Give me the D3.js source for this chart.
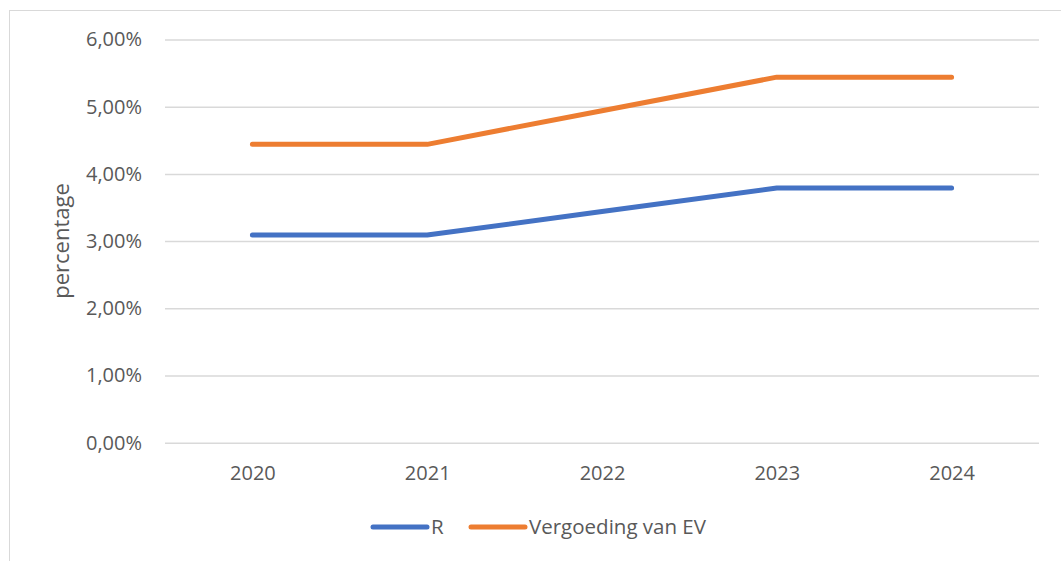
<!DOCTYPE html>
<html>
<head>
<meta charset="utf-8">
<script src="https://cdn.jsdelivr.net/npm/d3@7"></script>
<style>
body { margin: 0; background: #fff; }
text { font-family: "Open Sans", "Noto Sans", sans-serif; fill: #595959; }
</style>
</head>
<body>
<div id="wrapper"></div>
<script>
// data
const years = ["2020", "2021", "2022", "2023", "2024"]
const seriesR = [3.09, 3.09, 3.44, 3.79, 3.79]
const seriesEV = [4.44, 4.44, 4.94, 5.44, 5.44]
const yTicks = [0, 1, 2, 3, 4, 5, 6]

const dimensions = {
    width: 1061, height: 561,
    margins: {top: 39.5, bottom: 118.3, left: 165, right: 22}
}
dimensions.boundsWidth = dimensions.width - dimensions.margins.left - dimensions.margins.right
dimensions.boundsHeight = dimensions.height - dimensions.margins.top - dimensions.margins.bottom

const svg = d3.select("#wrapper").append("svg")
    .attr("width", dimensions.width)
    .attr("height", dimensions.height)

// chart border
svg.append("rect")
    .attr("x", 9.5).attr("y", 10.5)
    .attr("width", 1060).attr("height", 560)
    .attr("fill", "none").attr("stroke", "#d9d9d9").attr("stroke-width", 1)

const bounds = svg.append("g")
    .attr("transform", `translate(${dimensions.margins.left},${dimensions.margins.top})`)

// scales
const xScale = d3.scalePoint()
    .domain(years)
    .range([0, dimensions.boundsWidth])
    .padding(0.5)

const yScale = d3.scaleLinear()
    .domain([0, 6])
    .range([dimensions.boundsHeight, 0])

// grid + y axis
const yAxis = bounds.append("g")
    .call(d3.axisLeft(yScale).tickValues(yTicks)
        .tickSize(-dimensions.boundsWidth)
        .tickPadding(23)
        .tickFormat(d => d3.format(".2f")(d).replace(".", ",") + "%"))
yAxis.select(".domain").remove()
yAxis.selectAll("line").attr("stroke", "#d9d9d9").attr("stroke-width", 1.5)
yAxis.selectAll("text").style("font-size", "20px").attr("fill", "#595959")

// x axis
const xAxis = bounds.append("g")
    .attr("transform", `translate(0,${dimensions.boundsHeight})`)
    .call(d3.axisBottom(xScale).tickSize(0).tickPadding(23))
xAxis.select(".domain").remove()
xAxis.selectAll("text").style("font-size", "20px").attr("fill", "#595959")

// y label
svg.append("text")
    .attr("transform", "translate(69,241) rotate(-90)")
    .attr("text-anchor", "middle")
    .style("font-size", "22px")
    .text("percentage")

// lines
const line = d3.line()
    .x((d, i) => xScale(years[i]))
    .y(d => yScale(d))

const series = [
    {name: "R", values: seriesR, color: "#4472C4"},
    {name: "Vergoeding van EV", values: seriesEV, color: "#ED7D31"}
]

bounds.selectAll(".series").data(series).enter().append("path")
    .attr("d", d => line(d.values))
    .attr("fill", "none")
    .attr("stroke", d => d.color)
    .attr("stroke-width", 5)
    .attr("stroke-linecap", "round")
    .attr("stroke-linejoin", "round")

// legend
const legendX = [373, 471]
const legend = svg.append("g")
series.forEach((s, i) => {
    legend.append("line")
        .attr("x1", legendX[i]).attr("x2", legendX[i] + 54)
        .attr("y1", 527).attr("y2", 527)
        .attr("stroke", s.color).attr("stroke-width", 5)
        .attr("stroke-linecap", "round")
    legend.append("text")
        .attr("x", legendX[i] + 58).attr("y", 534)
        .style("font-size", "20.5px")
        .text(s.name)
})
</script>
</body>
</html>
